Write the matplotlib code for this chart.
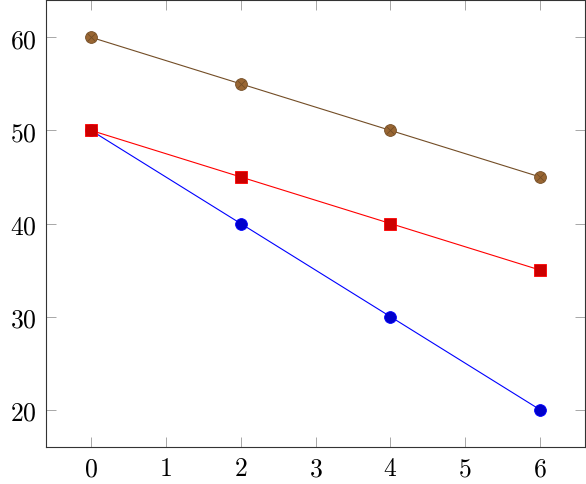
import matplotlib
matplotlib.use("Agg")
import matplotlib.pyplot as plt

x = [0, 2, 4, 6]
blue_y = [50, 40, 30, 20]
red_y = [50, 45, 40, 35]
brown_y = [60, 55, 50, 45]
xticks = [0, 1, 2, 3, 4, 5, 6]
yticks = [20, 30, 40, 50, 60]

plt.rcParams['mathtext.fontset'] = 'cm'

fig = plt.figure(figsize=(5.86, 4.85), dpi=100)
ax = fig.add_axes([46/586, 37/485, (585-46)/586, (448-1)/485])

ax.plot(x, blue_y, color=(0, 0, 1), lw=0.8, marker='o', ms=8.5,
        mfc=(0, 0, 0.8), mec=(0, 0, 1), mew=0.6, zorder=3)
ax.plot(x, red_y, color=(1, 0, 0), lw=0.8, marker='s', ms=8.0,
        mfc=(0.8, 0, 0), mec=(1, 0, 0), mew=0.6, zorder=3)
brown_line = (0.45, 0.3, 0.15)
brown_fill = (0.6, 0.4, 0.2)
ax.plot(x, brown_y, color=brown_line, lw=0.8, marker='o', ms=8.5,
        mfc=brown_fill, mec=brown_line, mew=0.6, zorder=3)
ax.plot(x, brown_y, ls='none', marker='x', ms=6.0, mec=brown_line, mew=0.6, zorder=4)

ax.set_xlim(-0.6, 6.6)
ax.set_ylim(16, 64)
ax.set_xticks(xticks)
ax.set_yticks(yticks)
ax.set_xticklabels([f'${v}$' for v in xticks])
ax.set_yticklabels([f'${v}$' for v in yticks])
ax.tick_params(direction='in', length=7, width=0.6, color='#999999',
               top=True, right=True, labelsize=18.5)
ax.tick_params(axis='x', pad=6)
ax.tick_params(axis='y', pad=7)
for s in ax.spines.values():
    s.set_linewidth(0.8)
    s.set_color('#333333')

fig.savefig('out.png', dpi=100)
